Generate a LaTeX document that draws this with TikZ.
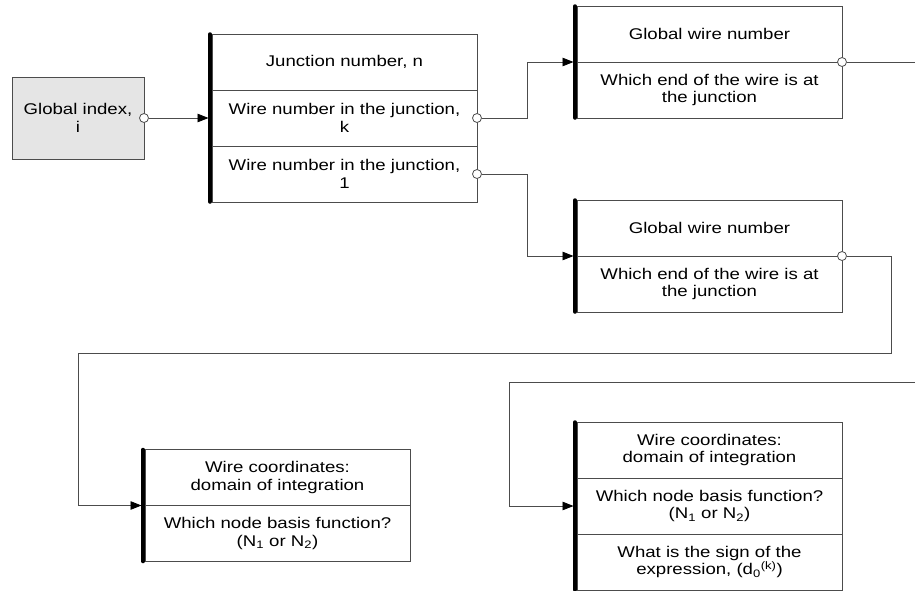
\documentclass[tikz,border=0pt]{standalone}
\usepackage{fontspec}
\setmainfont{Liberation Sans}[FakeStretch=1.2]
\usepackage{tikz}
\usetikzlibrary{positioning, arrows.meta}

\begin{document}
\begin{tikzpicture}[
    x=1pt, y=-1pt,
    cellnode/.style={rectangle, draw=black!70, line width=0.8pt, minimum width=265pt, minimum height=56pt, inner sep=0pt, outer sep=0pt, align=center, font=\fontsize{15.5}{17.5}\selectfont},
    greynode/.style={cellnode, fill=black!10, minimum width=132pt, minimum height=82pt},
    portnode/.style={circle, draw=black!70, line width=0.8pt, fill=white, inner sep=0pt, minimum size=9pt},
    barline/.style={line width=3.5pt, line cap=round, black},
    linkline/.style={draw=black!70, line width=0.8pt, -{Triangle[length=11pt, width=8.5pt, color=black]}, shorten >=3.5pt},
    plainline/.style={draw=black!70, line width=0.8pt},
    ]
    \useasboundingbox (0,0) rectangle (915,590);

    % global index
    \node[greynode] (gi) at (78,118) {Global index,\\ i};

    % junction record
    \node[cellnode] (j1) at (344.5,62) {Junction number, n};
    \node[cellnode] (j2) [below=0pt of j1] {Wire number in the junction,\\ k};
    \node[cellnode] (j3) [below=0pt of j2] {Wire number in the junction,\\ 1};

    % wire records
    \node[cellnode] (w1a) at (709.5,34) {Global wire number};
    \node[cellnode] (w1b) [below=0pt of w1a] {Which end of the wire is at\\ the junction};
    \node[cellnode] (w2a) at (709.5,228) {Global wire number};
    \node[cellnode] (w2b) [below=0pt of w2a] {Which end of the wire is at\\ the junction};

    % coordinate records
    \node[cellnode] (c1a) at (277.5,477.5) {Wire coordinates:\\ domain of integration};
    \node[cellnode] (c1b) [below=0pt of c1a] {Which node basis function?\\ (N\textsubscript{1} or N\textsubscript{2})};
    \node[cellnode] (c2a) at (709.5,450) {Wire coordinates:\\ domain of integration};
    \node[cellnode] (c2b) [below=0pt of c2a] {Which node basis function?\\ (N\textsubscript{1} or N\textsubscript{2})};
    \node[cellnode] (c2c) [below=0pt of c2b] {What is the sign of the\\ expression, (d\textsubscript{0}\textsuperscript{(k)})};

    % bars
    \draw[barline] ([xshift=-2pt]j1.north west) -- ([xshift=-2pt]j3.south west);
    \draw[barline] ([xshift=-2pt]w1a.north west) -- ([xshift=-2pt]w1b.south west);
    \draw[barline] ([xshift=-2pt]w2a.north west) -- ([xshift=-2pt]w2b.south west);
    \draw[barline] ([xshift=-2pt]c1a.north west) -- ([xshift=-2pt]c1b.south west);
    \draw[barline] ([xshift=-2pt]c2a.north west) -- ([xshift=-2pt]c2c.south west);

    % ports
    \node[portnode] (gip) at (gi.east) {};
    \node[portnode] (jk) at (j2.east) {};
    \node[portnode] (jl) at (j3.east) {};
    \node[portnode] (w1p) at (w1a.south east) {};
    \node[portnode] (w2p) at (w2a.south east) {};

    \coordinate (out1) at (915,62);
    \coordinate (turnA) at (891,353);
    \coordinate (turnB) at (78,353);
    \coordinate (in2) at (915,382);
    \coordinate (turnC) at (509,382);

    % connectors
    \draw[linkline] (gip) -- (j2.west);
    \draw[linkline] (jk) -- ++(50,0) |- (w1a.south west);
    \draw[linkline] (jl) -- ++(50,0) |- (w2a.south west);
    \draw[plainline] (w1p) -- (out1);
    \draw[linkline] (w2p) -| (turnA) -- (turnB) |- (c1a.south west);
    \draw[linkline] (in2) -- (turnC) |- (c2b.west);
\end{tikzpicture}
\end{document}
